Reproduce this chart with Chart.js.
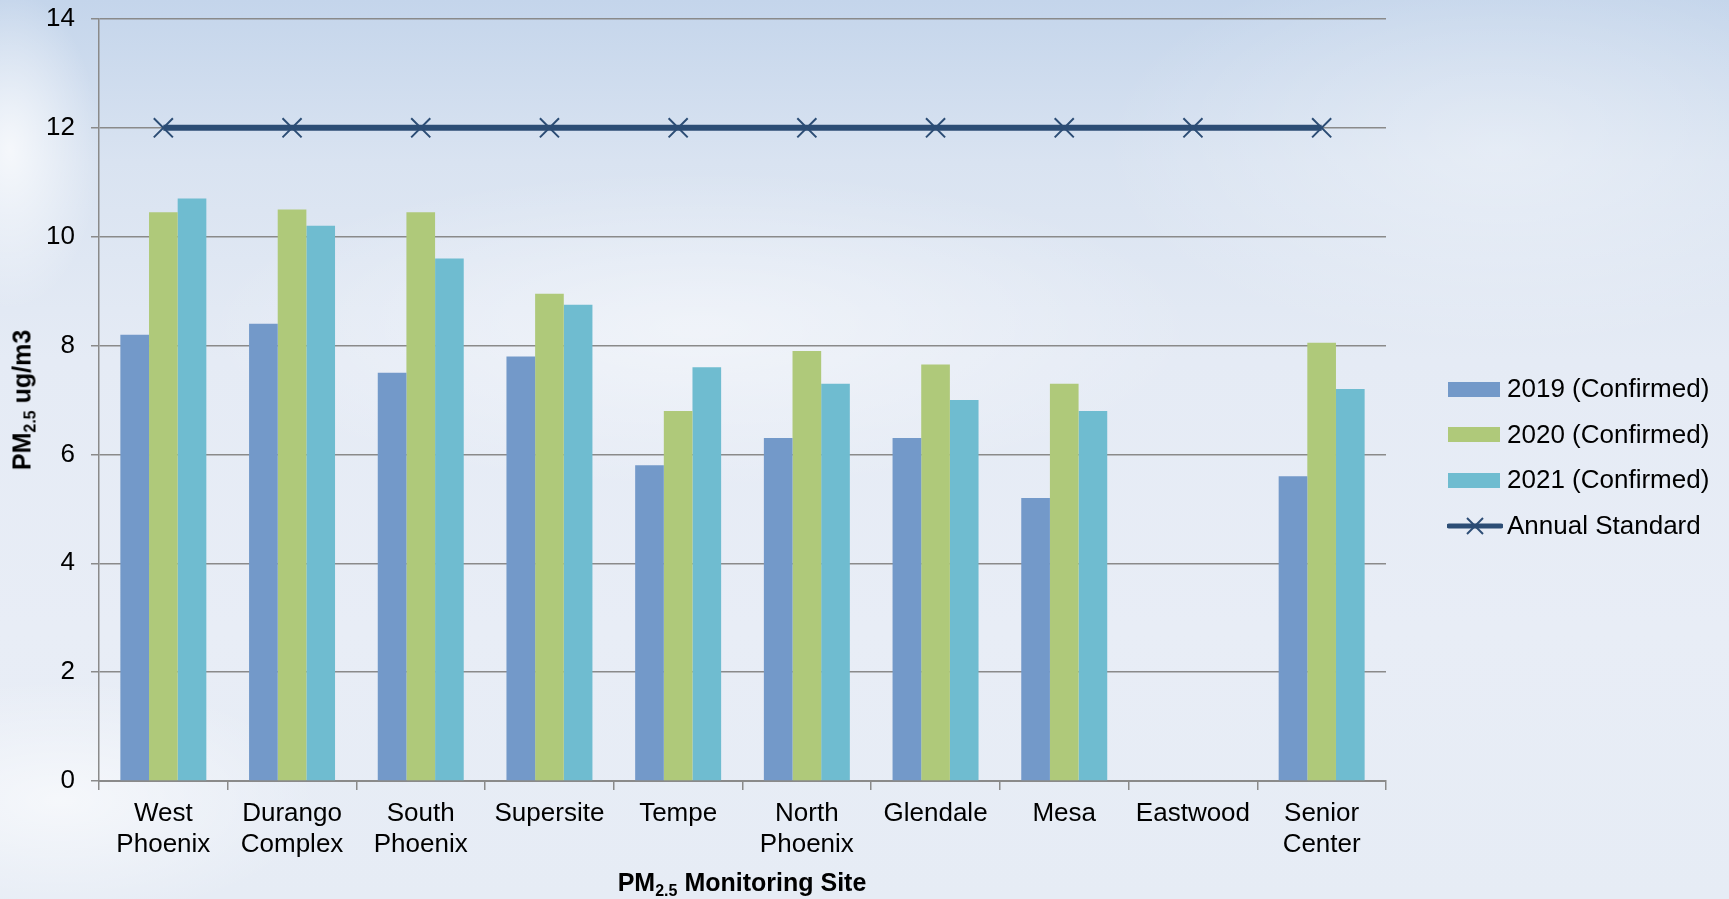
<!DOCTYPE html>
<html>
<head>
<meta charset="utf-8">
<script src="https://cdn.jsdelivr.net/npm/chart.js@4"></script>
<style>
  html, body { margin: 0; padding: 0; }
  body {
    width: 1729px; height: 899px; overflow: hidden; position: relative;
    font-family: "Liberation Sans", Arial, sans-serif;
    background:
      radial-gradient(ellipse 90px 160px at 10px 150px, rgba(255,255,255,0.75), rgba(255,255,255,0) 100%),
      radial-gradient(ellipse 260px 120px at 60px 800px, rgba(255,255,255,0.6), rgba(255,255,255,0) 100%),
      radial-gradient(ellipse 500px 160px at 700px 330px, rgba(255,255,255,0.45), rgba(255,255,255,0) 100%),
      radial-gradient(ellipse 400px 200px at 1500px 150px, rgba(255,255,255,0.35), rgba(255,255,255,0) 100%),
      linear-gradient(to bottom, #c4d5eb 0%, #d9e3f1 18%, #e5ebf5 40%, #e8edf6 70%, #e6ecf5 100%);
  }
  #chart { position: absolute; left: 0; top: 0; }
  .axis-title { position: absolute; font-weight: bold; font-size: 25px; color: #000; white-space: nowrap; }
  .axis-title sub { font-size: 16px; vertical-align: -5px; line-height: 0; }
  #xTitle { left: 742px; top: 882px; transform: translate(-50%, -50%); }
  #yTitle { left: 22px; top: 400px; transform: translate(-50%, -50%) rotate(-90deg); }
  #legend { position: absolute; left: 1447px; top: 366px; }
  .legend-row { height: 45.6px; display: flex; align-items: center; font-size: 26px; color: #000; }
  .legend-row .sym { width: 56px; height: 20px; margin-right: 4px; position: relative; }
  .legend-row .box { position: absolute; left: 1px; top: 3px; width: 52px; height: 15px; }
</style>
</head>
<body>
<canvas id="chart" width="1729" height="899"></canvas>
<div class="axis-title" id="xTitle">PM<sub>2.5</sub> Monitoring Site</div>
<div class="axis-title" id="yTitle">PM<sub>2.5</sub> ug/m3</div>
<div id="legend"></div>
<script>
// Data
const sites = [['West', 'Phoenix'], ['Durango', 'Complex'], ['South', 'Phoenix'], 'Supersite', 'Tempe',
    ['North', 'Phoenix'], 'Glendale', 'Mesa', 'Eastwood', ['Senior', 'Center']];
const pm2019 = [8.2, 8.4, 7.5, 7.8, 5.8, 6.3, 6.3, 5.2, null, 5.6];
const pm2020 = [10.45, 10.5, 10.45, 8.95, 6.8, 7.9, 7.65, 7.3, null, 8.05];
const pm2021 = [10.7, 10.2, 9.6, 8.75, 7.6, 7.3, 7.0, 6.8, null, 7.2];
const annualStandard = [12, 12, 12, 12, 12, 12, 12, 12, 12, 12];
const seriesLabels = ['2019 (Confirmed)', '2020 (Confirmed)', '2021 (Confirmed)', 'Annual Standard'];
const yMin = 0, yMax = 14, yStep = 2;

const colors = ['#7399c9', '#afc97a', '#6fbcd0', '#2c4d75'];
const FONT = '"Liberation Sans", Arial, sans-serif';
const GRID = '#8a8a8a';

const ctx = document.getElementById('chart').getContext('2d');
const chart = new Chart(ctx, {
    type: 'bar',
    data: {
        labels: sites,
        datasets: [
            { label: seriesLabels[0], data: pm2019, backgroundColor: colors[0], order: 2 },
            { label: seriesLabels[1], data: pm2020, backgroundColor: colors[1], order: 2 },
            { label: seriesLabels[2], data: pm2021, backgroundColor: colors[2], order: 2 },
            {
                type: 'line', label: seriesLabels[3], data: annualStandard,
                borderColor: colors[3], borderWidth: 6, fill: false,
                pointStyle: 'crossRot', pointRadius: 13.5, pointBorderWidth: 2,
                pointBorderColor: colors[3], pointBackgroundColor: colors[3], order: 1
            }
        ]
    },
    options: {
        responsive: false,
        animation: false,
        devicePixelRatio: 1,
        categoryPercentage: 0.668,
        barPercentage: 1.0,
        layout: { padding: { top: 19, right: 343, bottom: 0, left: 0 } },
        plugins: {
            legend: { display: false },
            tooltip: { enabled: false }
        },
        scales: {
            x: {
                offset: true,
                grid: { offset: true, drawOnChartArea: false, drawTicks: true, tickLength: 9, color: GRID, lineWidth: 1.5 },
                border: { display: true, color: GRID, width: 2 },
                ticks: { color: '#000', font: { family: FONT, size: 26, lineHeight: 1.19 }, padding: 8, maxRotation: 0, autoSkip: false },
                afterFit: function (scale) { scale.height = 118; }
            },
            y: {
                min: yMin, max: yMax,
                grid: { color: GRID, lineWidth: 1.5, tickLength: 8 },
                border: { display: true, color: GRID, width: 1.5 },
                ticks: { stepSize: yStep, color: '#000', font: { family: FONT, size: 26 }, padding: 16 },
                afterFit: function (scale) {
                    scale.width = 99;
                    // top label may overhang; keep plot top where the original has it
                    scale.paddingTop = 0;
                    scale.paddingBottom = 0;
                }
            }
        }
    }
});

// HTML legend (placed to the right like the original)
const legendEl = document.getElementById('legend');
chart.data.datasets.forEach((ds, i) => {
    const row = document.createElement('div');
    row.className = 'legend-row';
    let sym;
    if (ds.type === 'line') {
        sym = '<svg class="sym" width="56" height="20" viewBox="0 0 56 20">' +
            '<line x1="2" y1="10" x2="54" y2="10" stroke="' + colors[i] + '" stroke-width="5" stroke-linecap="round"/>' +
            '<line x1="20" y1="2" x2="36" y2="18" stroke="' + colors[i] + '" stroke-width="2"/>' +
            '<line x1="36" y1="2" x2="20" y2="18" stroke="' + colors[i] + '" stroke-width="2"/></svg>';
    } else {
        sym = '<div class="sym"><div class="box" style="background:' + colors[i] + '"></div></div>';
    }
    row.innerHTML = sym + '<span>' + ds.label + '</span>';
    legendEl.appendChild(row);
});
</script>
</body>
</html>
